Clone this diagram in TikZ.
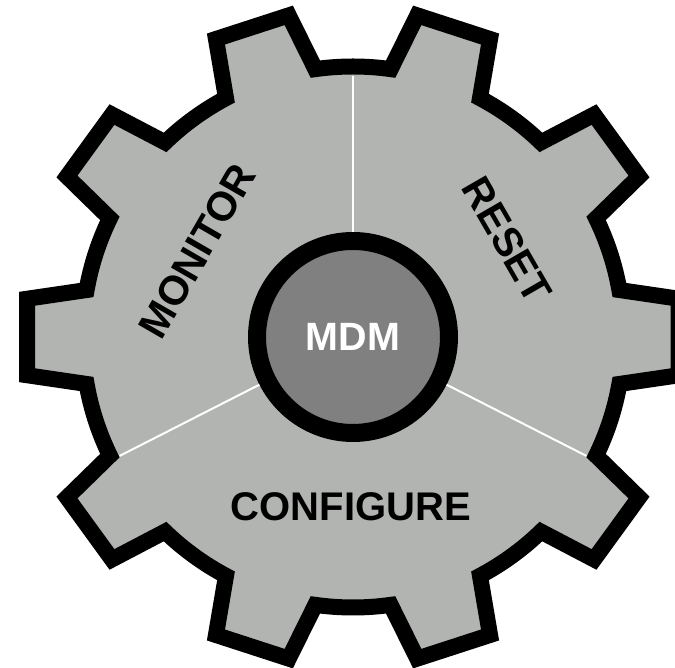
\documentclass[tikz,border=0pt]{standalone}
\usepackage{fontspec}
\setmainfont{Liberation Sans}
\definecolor{gearfill}{HTML}{B2B4B2}
\definecolor{hubfill}{HTML}{808080}
\tikzset{
    gear/.style={draw=black,line width=16pt,fill=gearfill},
    hub/.style={circle,draw=black,line width=18pt,fill=hubfill,minimum size=192pt,inner sep=0pt,text=white,font=\bfseries\fontsize{39.5}{39.5}\selectfont},
    spoke/.style={draw=white,line width=2pt},
    sector/.style={text=black,inner sep=0pt,font=\bfseries\fontsize{40}{40}\selectfont},
    tilted/.style={sector,font=\bfseries\fontsize{41}{41}\selectfont}
}
\begin{document}
\begin{tikzpicture}
    %frame
    \clip (-353pt,-331pt) rectangle (322pt,337pt);
    %gear
    \draw[gear] (-10:270.5pt) \foreach \a in {0,36,...,324} {
        -- (\a-10:270.5pt) -- (\a-6.7:328pt) -- (\a+6.7:328pt) -- (\a+10:270.5pt)
        arc[start angle=\a+10,end angle=\a+26,radius=270.5pt]} -- cycle;
    %hub
    \node[hub] (mdm) at (0,0) {MDM};
    %spokes
    \coordinate (top) at (90:261pt);
    \coordinate (left) at (207:262pt);
    \coordinate (right) at (333:262pt);
    \draw[spoke] (mdm.90) -- (top);
    \draw[spoke] (mdm.207) -- (left);
    \draw[spoke] (mdm.333) -- (right);
    %labels
    \node[tilted,rotate=60] (monitor) at (-156pt,86pt) {MONITOR};
    \node[tilted,rotate=-60] (reset) at (154pt,97pt) {RESET};
    \node[sector] (configure) at (-2pt,-170pt) {CONFIGURE};
\end{tikzpicture}
\end{document}
